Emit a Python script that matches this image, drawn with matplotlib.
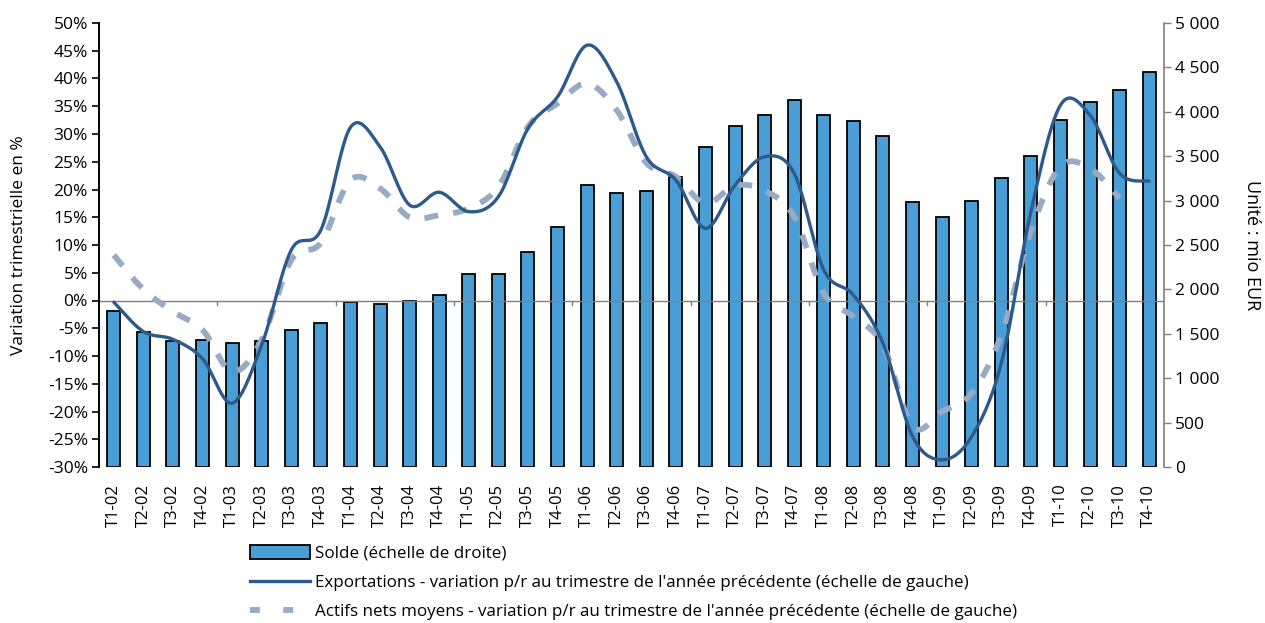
import numpy as np
import matplotlib
matplotlib.use("Agg")
import matplotlib.pyplot as plt
from matplotlib.patches import Patch
from matplotlib.lines import Line2D
from matplotlib.ticker import FuncFormatter

categories = ["T1-02", "T2-02", "T3-02", "T4-02",
              "T1-03", "T2-03", "T3-03", "T4-03",
              "T1-04", "T2-04", "T3-04", "T4-04",
              "T1-05", "T2-05", "T3-05", "T4-05",
              "T1-06", "T2-06", "T3-06", "T4-06",
              "T1-07", "T2-07", "T3-07", "T4-07",
              "T1-08", "T2-08", "T3-08", "T4-08",
              "T1-09", "T2-09", "T3-09", "T4-09",
              "T1-10", "T2-10", "T3-10", "T4-10"]

# Solde (mio EUR, right axis)
solde = [1760, 1525, 1415, 1435, 1395, 1420, 1545, 1620,
         1858, 1840, 1866, 1940, 2170, 2177, 2425, 2706,
         3176, 3090, 3105, 3266, 3607, 3836, 3960, 4130,
         3964, 3900, 3731, 2988, 2820, 2995, 3258, 3502,
         3904, 4110, 4242, 4445]

# Exportations - variation (%, left axis)
exportations = [-0.3, -5.6, -7.0, -10.5, -18.5, -8.0, 9.1, 12.7,
                31.2, 27.7, 17.2, 19.5, 16.0, 18.7, 31.0, 36.7,
                46.0, 39.4, 25.9, 21.7, 13.0, 20.8, 25.9, 22.9,
                5.5, 1.0, -7.7, -24.5, -28.7, -24.5, -11.3, 16.0,
                35.2, 33.4, 22.9, 21.5]

# Actifs nets moyens - variation (%, left axis), no value for T4-10
actifs = [8.2, 2.0, -2.0, -5.3, -12.8, -7.1, 7.3, 10.4,
          21.7, 20.2, 15.0, 15.4, 16.6, 20.5, 31.3, 35.5,
          39.1, 34.3, 24.8, 22.3, 17.5, 20.7, 19.8, 15.1,
          1.3, -2.9, -8.0, -22.7, -20.0, -16.7, -6.2, 12.5,
          24.1, 23.8, 18.4]

left_ticks = list(range(-30, 55, 5))
right_ticks = list(range(0, 5500, 500))


def smooth(x, y, n=30):
    """Excel-style smoothed line (Bezier through the data points)."""
    x = np.asarray(x, float)
    y = np.asarray(y, float)
    P = np.column_stack([x, y])
    m = len(P)
    out = []
    for i in range(m - 1):
        p0 = P[i - 1] if i > 0 else P[i]
        p1 = P[i]
        p2 = P[i + 1]
        p3 = P[i + 2] if i + 2 < m else P[i + 1]
        c1 = p1 + (p2 - p0) / 6.0
        c2 = p2 - (p3 - p1) / 6.0
        t = np.linspace(0, 1, n, endpoint=(i == m - 2))[:, None]
        seg = ((1 - t) ** 3) * p1 + 3 * ((1 - t) ** 2) * t * c1 + 3 * (1 - t) * t ** 2 * c2 + t ** 3 * p2
        out.append(seg)
    out = np.vstack(out)
    return out[:, 0], out[:, 1]


plt.rcParams['font.family'] = ['Open Sans', 'DejaVu Sans']

fig = plt.figure(figsize=(12.65, 6.23), dpi=100)
ax = fig.add_axes([99 / 1265, 1 - 467 / 623, (1164 - 99) / 1265, (467 - 23) / 623])
ax2 = ax.twinx()

xs = np.arange(len(categories))

bar_color = "#4a9ed6"
line_color = "#2d5a8c"
dash_color = "#98aac4"

ax2.bar(xs, solde, width=0.44, color=bar_color, edgecolor="black", linewidth=1.3, zorder=2)
ax2.set_ylim(0, 5000)
ax2.set_yticks(right_ticks)
ax2.yaxis.set_major_formatter(FuncFormatter(lambda v, p: f"{int(v):,}".replace(",", " ")))

ax.set_zorder(ax2.get_zorder() + 1)
ax.patch.set_visible(False)

ax.set_ylim(-30, 50)
ax.set_xlim(-0.5, len(categories) - 0.5)
ax.set_yticks(left_ticks)
ax.yaxis.set_major_formatter(FuncFormatter(lambda v, p: f"{int(v)}%"))

ax.axhline(0, color="#7f7f7f", linewidth=1.0, zorder=1)
for k in range(4, len(categories), 4):
    ax.plot([k - 0.5, k - 0.5], [0, -0.75], color="#7f7f7f", linewidth=1.0)

sx, sy = smooth(xs, exportations)
ax.plot(sx, sy, color=line_color, linewidth=2.4, solid_capstyle="round", zorder=4)
ax_x, ay = smooth(xs[:len(actifs)], actifs)
ax.plot(ax_x, ay, color=dash_color, linewidth=4.2, dashes=(2.4, 2.6), zorder=3)

ax.set_xticks(xs)
ax.set_xticklabels(categories, rotation=90, fontsize=12)
ax.tick_params(axis="x", length=0, pad=12)
ax.tick_params(axis="y", direction="out", length=5, width=1.2, labelsize=12.5, pad=3)
ax2.tick_params(axis="y", direction="out", length=5, width=1.0, labelsize=12.5, pad=3, color="#7f7f7f")

for s in ["top", "bottom", "right"]:
    ax.spines[s].set_visible(False)
for s in ["top", "bottom", "left"]:
    ax2.spines[s].set_visible(False)
ax.spines["left"].set_linewidth(1.4)
ax.spines["left"].set_color("black")
ax2.spines["right"].set_color("#7f7f7f")
ax2.spines["right"].set_linewidth(1.2)

ax.set_ylabel("Variation trimestrielle en %", fontsize=12.5)
ax.yaxis.set_label_coords(-0.068, 0.5)
ax2.set_ylabel("Unité : mio EUR", fontsize=13, rotation=270, labelpad=18)
ax2.yaxis.set_label_coords(1.091, 0.5)

handles = [
    Patch(facecolor=bar_color, edgecolor="black", linewidth=1.3),
    Line2D([], [], color=line_color, linewidth=2.4),
    Line2D([], [], color=dash_color, linewidth=4.2, dashes=(1.7, 4.0)),
]
labels = [
    "Solde (échelle de droite)",
    "Exportations - variation p/r au trimestre de l'année précédente (échelle de gauche)",
    "Actifs nets moyens - variation p/r au trimestre de l'année précédente (échelle de gauche)",
]
fig.legend(handles, labels, loc="upper left", bbox_to_anchor=(250 / 1265, 1 - 545 / 623),
           frameon=False, fontsize=12.25, handlelength=3.5, handleheight=0.85,
           handletextpad=0.3, labelspacing=0.74, borderpad=0, borderaxespad=0)

fig.savefig("out.png", dpi=100)
